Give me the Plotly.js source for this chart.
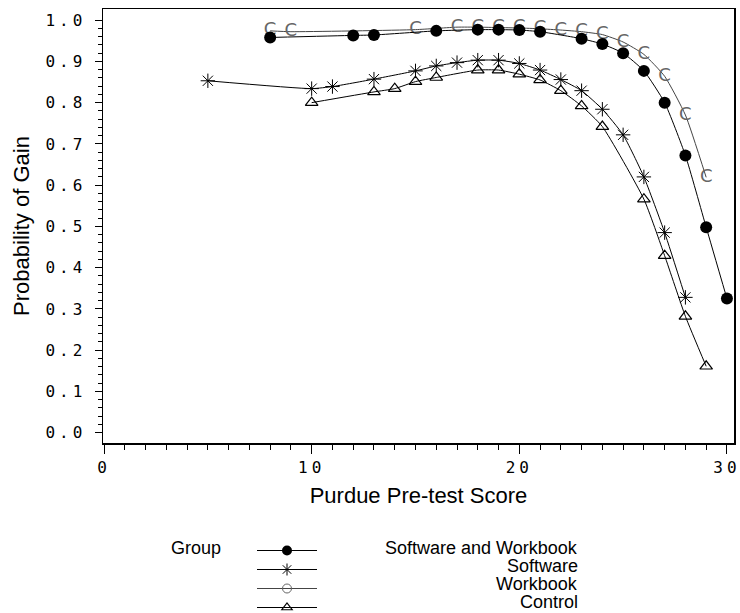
<!DOCTYPE html>
<html>
<head>
<meta charset="utf-8">
<script src="https://cdn.plot.ly/plotly-3.0.1.min.js"></script>
<style>
  html, body { margin: 0; padding: 0; background: #fff; }
  #chart { width: 740px; height: 613px; }
  #chart .xtick text, #chart .ytick text { letter-spacing: 4px; }
</style>
</head>
<body>
<div id="chart"></div>
<script>
// ---- data ----
var groupTitle = "Group";
var seriesNames = ["Software and Workbook", "Software", "Workbook", "Control"];

var swwbX = [8, 12, 13, 16, 18, 19, 20, 21, 23, 24, 25, 26, 27, 28, 29, 30];
var swwbY = [0.958, 0.963, 0.964, 0.974, 0.977, 0.977, 0.976, 0.972, 0.955, 0.942, 0.920, 0.877, 0.800, 0.672, 0.498, 0.325];

var softX = [5, 10, 11, 13, 15, 16, 17, 18, 19, 20, 21, 22, 23, 24, 25, 26, 27, 28];
var softY = [0.853, 0.834, 0.839, 0.857, 0.877, 0.889, 0.897, 0.903, 0.903, 0.895, 0.879, 0.856, 0.829, 0.784, 0.722, 0.620, 0.485, 0.328];

var wbX = [8, 9, 15, 17, 18, 19, 20, 21, 22, 23, 24, 25, 26, 27, 28, 29];
var wbY = [0.974, 0.972, 0.977, 0.983, 0.983, 0.982, 0.981, 0.979, 0.976, 0.972, 0.965, 0.947, 0.917, 0.864, 0.770, 0.619];

var ctrlX = [10, 13, 14, 15, 16, 18, 19, 20, 21, 22, 23, 24, 26, 27, 28, 29];
var ctrlY = [0.800, 0.826, 0.834, 0.851, 0.861, 0.879, 0.879, 0.869, 0.855, 0.829, 0.792, 0.742, 0.566, 0.429, 0.282, 0.161];

var wbSymbolText = "C";
var xTitle = "Purdue Pre-test Score";
var yTitle = "Probability of Gain";

// ---- figure ----
var lineStyle = {color: "#000", width: 1, shape: "spline", smoothing: 0.5};
var wbLine = {color: "#444", width: 1, shape: "spline", smoothing: 0.5};

var traces = [
  {x: ctrlX, y: ctrlY, name: seriesNames[3], mode: "lines+markers", showlegend: false,
   line: lineStyle, marker: {symbol: "triangle-up-open", size: 11, color: "#000", line: {width: 1.2}}},
  {x: softX, y: softY, name: seriesNames[1], mode: "lines+markers", showlegend: false,
   line: lineStyle, marker: {symbol: "asterisk-open", size: 12, color: "#000", line: {width: 1, color: "#000"}}},
  {x: wbX, y: wbY, name: seriesNames[2], mode: "lines+text", showlegend: false,
   text: wbX.map(function () { return wbSymbolText; }), textposition: "middle center",
   textfont: {family: "DejaVu Sans", size: 18, color: "#666"}, line: wbLine},
  {x: swwbX, y: swwbY, name: seriesNames[0], mode: "lines+markers", showlegend: false,
   line: lineStyle, marker: {symbol: "circle", size: 12, color: "#000"}},
  // legend symbol samples (no data points)
  {x: [null], y: [null], name: "", mode: "lines+markers", legendrank: 1,
   line: {color: "#000", width: 1}, marker: {symbol: "circle", size: 10, color: "#000"}},
  {x: [null], y: [null], name: "", mode: "lines+markers", legendrank: 2,
   line: {color: "#000", width: 1}, marker: {symbol: "asterisk-open", size: 10, color: "#000", line: {width: 1, color: "#000"}}},
  {x: [null], y: [null], name: "", mode: "lines+markers", legendrank: 3,
   line: {color: "#444", width: 1}, marker: {symbol: "circle-open", size: 9, color: "#666", line: {width: 1}}},
  {x: [null], y: [null], name: "", mode: "lines+markers", legendrank: 4,
   line: {color: "#000", width: 1}, marker: {symbol: "triangle-up-open", size: 9, color: "#000", line: {width: 1.2}}}
];

var PL = 103, PR = 734, PT = 9, PB = 443;
function px2x(px) { return (px - PL) / (PR - PL); }
function py2y(py) { return (PB - py) / (PB - PT); }

var minorY = [];
for (var i = 1; i < 50; i++) { if (i % 5 !== 0) minorY.push(i / 50); }

var rows = [548, 566, 584, 602];
var annotations = [{
  text: groupTitle, xref: "paper", yref: "paper", x: px2x(170), y: py2y(rows[0]),
  xanchor: "left", yanchor: "middle", showarrow: false, borderpad: 0,
  font: {family: "Liberation Sans", size: 18, color: "#000"}
}];
seriesNames.forEach(function (n, k) {
  annotations.push({
    text: n, xref: "paper", yref: "paper", x: px2x(579), y: py2y(rows[k]),
    xanchor: "right", yanchor: "middle", showarrow: false, borderpad: 0,
    font: {family: "Liberation Sans", size: 18, color: "#000"}
  });
});

var layout = {
  width: 740, height: 613,
  margin: {l: PL, r: 740 - PR, t: PT, b: 613 - PB, autoexpand: false},
  paper_bgcolor: "#fff", plot_bgcolor: "#fff",
  showlegend: true,
  legend: {
    x: px2x(252), xanchor: "left", y: py2y(536), yanchor: "top",
    orientation: "v", itemwidth: 60, font: {size: 12, color: "#000"},
    bgcolor: "rgba(0,0,0,0)", borderwidth: 0, itemclick: false
  },
  xaxis: {
    range: [-0.05, 30.34], tickmode: "linear", tick0: 0, dtick: 10,
    ticks: "outside", ticklen: 9, tickwidth: 1, tickcolor: "#000",
    minor: {dtick: 1, tick0: 0, ticks: "outside", ticklen: 5, tickwidth: 1, tickcolor: "#000"},
    showline: true, linecolor: "#000", linewidth: 1.5, mirror: true,
    showgrid: false, zeroline: false,
    tickfont: {family: "DejaVu Sans Mono", size: 16, color: "#000"},
    title: {text: xTitle, font: {family: "Liberation Sans", size: 22, color: "#000"}, standoff: 12}
  },
  yaxis: {
    range: [-0.025, 1.027], tickmode: "linear", tick0: 0, dtick: 0.1, tickformat: ".1f",
    ticks: "outside", ticklen: 7, tickwidth: 1, tickcolor: "#000", ticklabelstandoff: 5,
    minor: {tickmode: "array", tickvals: minorY, ticks: "outside", ticklen: 4, tickwidth: 1, tickcolor: "#000"},
    showline: true, linecolor: "#000", linewidth: 1.5, mirror: true,
    showgrid: false, zeroline: false,
    tickfont: {family: "DejaVu Sans Mono", size: 16, color: "#000"},
    title: {text: yTitle, font: {family: "Liberation Sans", size: 22, color: "#000"}, standoff: 21}
  },
  annotations: annotations
};

Plotly.newPlot("chart", traces, layout, {displayModeBar: false, staticPlot: true});
</script>
</body>
</html>
